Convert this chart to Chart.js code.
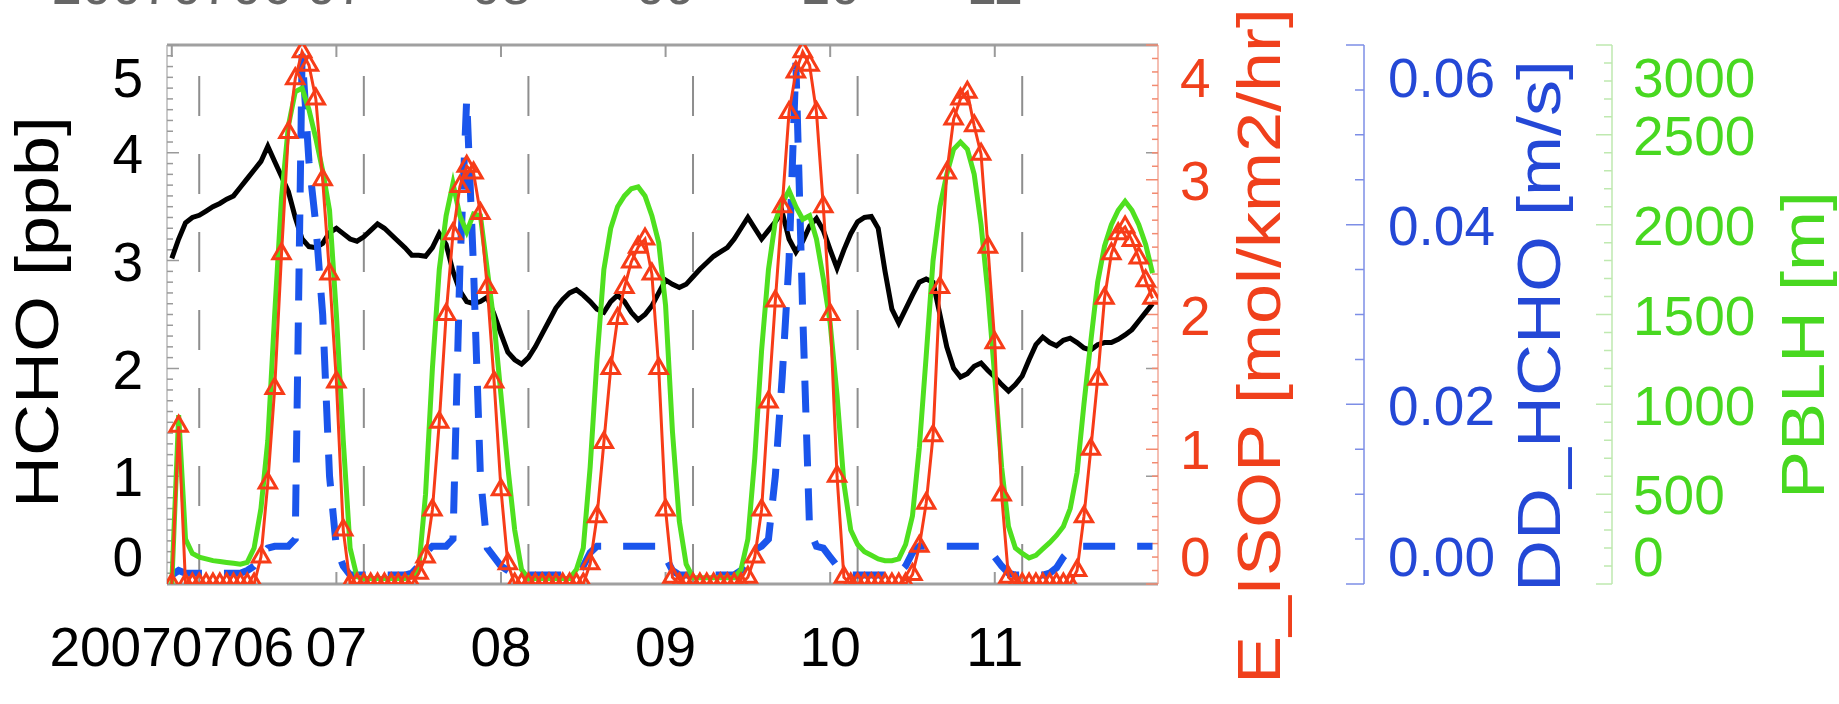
<!DOCTYPE html>
<html>
<head>
<meta charset="utf-8">
<script src="https://cdn.jsdelivr.net/npm/chart.js@4.4.0/dist/chart.umd.min.js"></script>
<style>
  html, body { margin: 0; padding: 0; background: #fff; }
  #wrap { width: 1839px; height: 704px; position: relative; }
</style>
</head>
<body>
<div id="wrap"><canvas id="myChart"></canvas></div>
<script>
// hourly model output, hours since 2007-07-06 00 UTC
const hours = [
  0, 1, 2, 3, 4, 5, 6, 7, 8, 9, 10, 11, 12, 13, 14, 15, 16, 17, 18, 19, 20, 21, 22, 23,
  24, 25, 26, 27, 28, 29, 30, 31, 32, 33, 34, 35, 36, 37, 38, 39, 40, 41, 42, 43, 44, 45, 46, 47,
  48, 49, 50, 51, 52, 53, 54, 55, 56, 57, 58, 59, 60, 61, 62, 63, 64, 65, 66, 67, 68, 69, 70, 71,
  72, 73, 74, 75, 76, 77, 78, 79, 80, 81, 82, 83, 84, 85, 86, 87, 88, 89, 90, 91, 92, 93, 94, 95,
  96, 97, 98, 99, 100, 101, 102, 103, 104, 105, 106, 107, 108, 109, 110, 111, 112, 113, 114, 115, 116, 117, 118, 119,
  120, 121, 122, 123, 124, 125, 126, 127, 128, 129, 130, 131, 132, 133, 134, 135, 136, 137, 138, 139, 140, 141, 142, 143
];

// HCHO [ppb]
const hchoPpb = [
  3.02, 3.20, 3.35, 3.40, 3.42, 3.46, 3.50, 3.53, 3.57, 3.60, 3.68, 3.76, 3.84, 3.92, 4.06, 3.92, 3.78, 3.64, 3.40, 3.20, 3.13, 3.12, 3.16, 3.26,
  3.30, 3.25, 3.20, 3.18, 3.22, 3.28, 3.34, 3.30, 3.24, 3.18, 3.12, 3.05, 3.05, 3.04, 3.12, 3.25, 3.15, 2.90, 2.72, 2.62, 2.60, 2.62, 2.66, 2.50,
  2.32, 2.15, 2.08, 2.04, 2.10, 2.20, 2.32, 2.44, 2.56, 2.64, 2.70, 2.73, 2.68, 2.62, 2.55, 2.52, 2.62, 2.68, 2.62, 2.52, 2.45, 2.50, 2.58, 2.70,
  2.82, 2.78, 2.75, 2.78, 2.85, 2.92, 2.98, 3.04, 3.08, 3.12, 3.20, 3.30, 3.40, 3.30, 3.20, 3.28, 3.36, 3.45, 3.20, 3.08, 3.18, 3.32, 3.39, 3.28,
  3.10, 2.93, 3.10, 3.25, 3.36, 3.40, 3.41, 3.30, 2.90, 2.55, 2.42, 2.55, 2.68, 2.80, 2.83, 2.80, 2.50, 2.20, 2.00, 1.92, 1.95, 2.02, 2.05, 1.98,
  1.92, 1.85, 1.79, 1.85, 1.93, 2.08, 2.22, 2.29, 2.24, 2.21, 2.26, 2.28, 2.24, 2.19, 2.17, 2.22, 2.24, 2.24, 2.27, 2.31, 2.36, 2.44, 2.52, 2.60
];

// E_ISOP [mol/km2/hr]
const eIsop = [
  0, 1.17, 0, 0, 0, 0, 0, 0, 0, 0, 0, 0, 0, 0.2, 0.75, 1.45, 2.45, 3.35, 3.75, 3.95, 3.85, 3.6, 3.0, 2.3,
  1.5, 0.4, 0, 0, 0, 0, 0, 0, 0, 0, 0, 0, 0.08, 0.2, 0.55, 1.2, 2.0, 2.6, 2.95, 3.1, 3.05, 2.75, 2.2, 1.5,
  0.7, 0.15, 0, 0, 0, 0, 0, 0, 0, 0, 0, 0, 0, 0.15, 0.5, 1.05, 1.6, 1.97, 2.2, 2.39, 2.5, 2.56, 2.3, 1.6,
  0.55, 0.05, 0, 0, 0, 0, 0, 0, 0, 0, 0, 0, 0.05, 0.2, 0.55, 1.35, 2.1, 2.8, 3.5, 3.8, 3.95, 3.85, 3.5, 2.8,
  2.0, 0.8, 0.05, 0, 0, 0, 0, 0, 0, 0, 0, 0, 0.07, 0.28, 0.6, 1.1, 2.2, 3.05, 3.45, 3.6, 3.65, 3.4, 3.19, 2.5,
  1.79, 0.66, 0.05, 0, 0, 0, 0, 0, 0, 0, 0, 0, 0.1, 0.5, 1.0, 1.52, 2.12, 2.45, 2.6, 2.65, 2.55, 2.42, 2.25, 2.12
];

// DD_HCHO [m/s]
const ddHcho = [
  0.001, 0.0015, 0.0012, 0.0012, 0.0012, 0.0012, 0.0012, 0.0012, 0.0012, 0.0012, 0.0012, 0.0015, 0.002, 0.003, 0.004, 0.0042, 0.0042, 0.0042, 0.005, 0.059, 0.047, 0.040, 0.030, 0.012,
  0.004, 0.002, 0.001, 0.001, 0.001, 0.001, 0.001, 0.001, 0.001, 0.001, 0.001, 0.0012, 0.002, 0.0035, 0.0042, 0.0042, 0.0042, 0.005, 0.035, 0.054, 0.035, 0.012, 0.004, 0.003,
  0.002, 0.0015, 0.001, 0.001, 0.001, 0.001, 0.001, 0.001, 0.001, 0.001, 0.001, 0.0012, 0.002, 0.0035, 0.0042, 0.0042, 0.0042, 0.0042, 0.0042, 0.0042, 0.0042, 0.0042, 0.0042, 0.0042,
  0.003, 0.0015, 0.001, 0.001, 0.001, 0.001, 0.001, 0.001, 0.001, 0.001, 0.001, 0.0015, 0.0025, 0.0038, 0.0042, 0.005, 0.012, 0.023, 0.036, 0.058, 0.030, 0.006, 0.0042, 0.004,
  0.003, 0.002, 0.0012, 0.001, 0.001, 0.001, 0.001, 0.001, 0.001, 0.001, 0.0012, 0.002, 0.0035, 0.0042, 0.0042, 0.0042, 0.0042, 0.0042, 0.0042, 0.0042, 0.0042, 0.0042, 0.0042, 0.0042,
  0.003, 0.002, 0.0012, 0.001, 0.001, 0.001, 0.001, 0.001, 0.0012, 0.0018, 0.003, 0.0038, 0.0042, 0.0042, 0.0042, 0.0042, 0.0042, 0.0042, 0.0042, 0.0042, 0.0042, 0.0042, 0.0042, 0.0042
];

// PBLH [m]
const pblh = [
  0, 940, 250, 170, 150, 140, 130, 125, 120, 115, 110, 120, 200, 420, 800, 1500, 2150, 2550, 2740, 2760, 2640, 2480, 2300, 2080,
  1500, 800, 200, 40, 30, 30, 30, 30, 30, 30, 30, 40, 80, 500, 1200, 1750, 2050, 2230, 2050, 1960, 2060, 2050, 1750, 1450,
  1050, 650, 300, 80, 30, 30, 30, 30, 30, 30, 30, 80, 200, 650, 1250, 1750, 1980, 2100, 2160, 2200, 2210, 2160, 2050, 1900,
  1550, 850, 350, 110, 35, 35, 35, 35, 35, 35, 35, 80, 250, 700, 1300, 1750, 2020, 2120, 2190, 2100, 2030, 2050, 1920, 1700,
  1450, 1050, 560, 300, 220, 180, 160, 140, 130, 130, 140, 220, 380, 760, 1270, 1800, 2100, 2280, 2420, 2460, 2420, 2280, 2000, 1620,
  1150, 650, 320, 200, 170, 145, 160, 195, 230, 270, 320, 420, 620, 1000, 1350, 1680, 1880, 2000, 2080, 2130, 2080, 2000, 1890, 1730
];

// axis ticks
const dayTicks = [0, 24, 48, 72, 96, 120];
const dayLabels = ['20070706', '07', '08', '09', '10', '11'];
const midnightHours = [4, 28, 52, 76, 100, 124];
const hchoTicks = [0, 1, 2, 3, 4, 5];
const isopTicks = [0, 1, 2, 3, 4];
const ddTicks = [0, 0.02, 0.04, 0.06];
const pblhTicks = [0, 500, 1000, 1500, 2000, 2500, 3000];

const fontFamily = '"Liberation Sans", Arial, Helvetica, sans-serif';
const colBlack = '#000000';
const colRed = '#f73c18';
const colBlue = '#1a55ec';
const colGreen = '#4fe01f';
const colRedText = '#f0401c';
const colBlueText = '#2448d6';
const colGreenText = '#48d820';

// end labels are pulled in towards the plot, like the old IDL layout
function edgeLabel(text, value, ticks) {
  if (value === ticks[ticks.length - 1]) return ['', text];
  if (value === ticks[0]) return [text, ''];
  return text;
}
function tickFont(ticks) {
  return function(ctx) {
    const v = ctx.tick ? ctx.tick.value : null;
    return { family: fontFamily, size: 55, lineHeight: v === ticks[ticks.length - 1] ? 64 / 55 : 56 / 55 };
  };
}
function fixedTicks(list) {
  return function(scale) { scale.ticks = list.map(v => ({ value: v })); };
}
function fixedWidth(w) {
  return function(scale) { scale.width = w; scale.paddingTop = 0; scale.paddingBottom = 0; };
}

function verticalTitle(ctx, text, x, y, color) {
  ctx.save();
  ctx.translate(x, y);
  ctx.rotate(-Math.PI / 2);
  ctx.scale(1.18, 1);
  ctx.font = '61px ' + fontFamily;
  ctx.fillStyle = color;
  ctx.textAlign = 'center';
  ctx.textBaseline = 'middle';
  ctx.fillText(text, 0, 0);
  ctx.restore();
}

const boxDecor = {
  id: 'boxDecor',
  beforeDatasetsDraw(chart) {
    const { ctx, chartArea: a, scales } = chart;
    const x = scales.x, yH = scales.yH, yI = scales.yI;
    ctx.save();

    // local midnight markers
    ctx.strokeStyle = '#8e8e8e';
    ctx.lineWidth = 2;
    ctx.setLineDash([40, 38]);
    midnightHours.forEach(function(h) {
      const px = x.getPixelForValue(h);
      ctx.beginPath();
      ctx.moveTo(px, a.top + 31);
      ctx.lineTo(px, a.bottom);
      ctx.stroke();
    });
    ctx.setLineDash([]);

    // plot box
    ctx.strokeStyle = '#a0a0a0';
    ctx.lineWidth = 3;
    ctx.beginPath();
    ctx.moveTo(a.left, a.top); ctx.lineTo(a.right, a.top);
    ctx.moveTo(a.left, a.bottom); ctx.lineTo(a.right, a.bottom);
    ctx.stroke();
    ctx.lineWidth = 1.5;
    ctx.strokeStyle = '#b8b8b8';
    ctx.beginPath();
    ctx.moveTo(a.left, a.top); ctx.lineTo(a.left, a.bottom);
    ctx.stroke();
    ctx.strokeStyle = '#f2a898';
    ctx.beginPath();
    ctx.moveTo(a.right, a.top); ctx.lineTo(a.right, a.bottom);
    ctx.stroke();

    // HCHO ticks on the left, majors mirrored on the right
    ctx.strokeStyle = '#9a9a9a';
    ctx.lineWidth = 1.5;
    for (let i = 0; i <= 50; i++) {
      const py = yH.getPixelForValue(i / 10);
      const len = i % 10 === 0 ? 12 : 6;
      ctx.beginPath();
      ctx.moveTo(a.left, py); ctx.lineTo(a.left + len, py);
      if (i % 10 === 0) { ctx.moveTo(a.right, py); ctx.lineTo(a.right - 12, py); }
      ctx.stroke();
    }
    // E_ISOP ticks on the right
    ctx.strokeStyle = '#f28a70';
    for (let i = 0; i <= 40; i++) {
      const py = yI.getPixelForValue(i / 10);
      const len = i % 10 === 0 ? 12 : 6;
      ctx.beginPath();
      ctx.moveTo(a.right, py); ctx.lineTo(a.right - len, py);
      ctx.stroke();
    }
    // day ticks on top and bottom
    ctx.strokeStyle = '#9a9a9a';
    ctx.lineWidth = 2;
    dayTicks.forEach(function(d) {
      const px = x.getPixelForValue(d);
      ctx.beginPath();
      ctx.moveTo(px, a.top); ctx.lineTo(px, a.top + 12);
      ctx.moveTo(px, a.bottom); ctx.lineTo(px, a.bottom - 12);
      ctx.stroke();
    });
    ctx.restore();
  },
  afterDraw(chart) {
    const { ctx, chartArea: a, scales } = chart;
    const x = scales.x, yD = scales.yD, yP = scales.yP;
    ctx.save();

    // DD_HCHO axis
    ctx.strokeStyle = '#7d8ee6';
    ctx.lineWidth = 1.5;
    ctx.beginPath();
    ctx.moveTo(yD.left, a.top); ctx.lineTo(yD.left, a.bottom);
    for (let i = 0; i <= 12; i++) {
      const py = yD.getPixelForValue(i * 0.005);
      const len = i % 4 === 0 ? 18 : 9;
      ctx.moveTo(yD.left, py); ctx.lineTo(yD.left - len, py);
    }
    ctx.stroke();

    // PBLH axis
    ctx.strokeStyle = '#bfe9b0';
    ctx.beginPath();
    ctx.moveTo(yP.left, a.top); ctx.lineTo(yP.left, a.bottom);
    for (let i = 0; i <= 30; i++) {
      const py = yP.getPixelForValue(i * 100);
      const len = i % 5 === 0 ? 16 : 8;
      ctx.moveTo(yP.left, py); ctx.lineTo(yP.left - len, py);
    }
    ctx.stroke();

    // axis titles
    verticalTitle(ctx, 'HCHO [ppb]', scales.yH.left + 41, 312, colBlack);
    verticalTitle(ctx, 'E_ISOP [mol/km2/hr]', scales.yI.left + 105, 346, colRedText);
    verticalTitle(ctx, 'DD_HCHO [m/s]', yD.left + 179, 326, colBlueText);
    verticalTitle(ctx, 'PBLH [m]', yP.left + 195, 345, colGreenText);

    // date labels of the panel above, cut by the page edge
    ctx.font = '54px ' + fontFamily;
    ctx.fillStyle = '#666666';
    ctx.textAlign = 'center';
    ctx.textBaseline = 'alphabetic';
    dayTicks.forEach(function(d, i) {
      ctx.fillText(dayLabels[i], x.getPixelForValue(d), 4);
    });
    ctx.restore();
  }
};

const ctx = document.getElementById('myChart').getContext('2d');
const myChart = new Chart(ctx, {
  type: 'line',
  data: {
    labels: hours,
    datasets: [
      {
        label: 'E_ISOP',
        data: eIsop,
        yAxisID: 'yI',
        borderColor: colRed,
        borderWidth: 3,
        pointStyle: 'triangle',
        pointRadius: 10,
        pointBorderWidth: 3,
        pointBorderColor: colRed,
        pointBackgroundColor: 'rgba(255,255,255,0)',
        clip: 0
      },
      {
        label: 'PBLH',
        data: pblh,
        yAxisID: 'yP',
        borderColor: colGreen,
        borderWidth: 5,
        pointRadius: 0,
        clip: 0
      },
      {
        label: 'DD_HCHO',
        data: ddHcho,
        yAxisID: 'yD',
        borderColor: colBlue,
        borderWidth: 7,
        borderDash: [32, 22],
        pointRadius: 0,
        clip: 0
      },
      {
        label: 'HCHO',
        data: hchoPpb,
        yAxisID: 'yH',
        borderColor: colBlack,
        borderWidth: 5,
        pointRadius: 0,
        clip: 0
      }
    ]
  },
  options: {
    responsive: true,
    maintainAspectRatio: false,
    animation: false,
    devicePixelRatio: 1,
    layout: { padding: { top: 45, left: 0, right: 0, bottom: 0 } },
    plugins: { legend: { display: false }, tooltip: { enabled: false } },
    scales: {
      x: {
        type: 'linear',
        min: -0.7,
        max: 143.8,
        grid: { display: false, drawTicks: false },
        border: { display: false },
        afterBuildTicks: fixedTicks(dayTicks),
        afterFit: function(scale) { scale.height = 120; scale.paddingLeft = 0; scale.paddingRight = 0; },
        ticks: {
          autoSkip: false,
          maxRotation: 0,
          minRotation: 0,
          padding: 34,
          color: colBlack,
          font: { family: fontFamily, size: 55 },
          callback: function(v) { return dayLabels[dayTicks.indexOf(v)]; }
        }
      },
      yH: {
        position: 'left',
        min: 0, max: 5,
        grid: { display: false, drawTicks: false },
        border: { display: false },
        afterBuildTicks: fixedTicks(hchoTicks),
        afterFit: fixedWidth(167),
        ticks: {
          autoSkip: false,
          padding: 24,
          labelOffset: 5,
          color: colBlack,
          font: tickFont(hchoTicks),
          callback: function(v) { return edgeLabel(String(v), v, hchoTicks); }
        }
      },
      yI: {
        position: 'right',
        min: 0, max: 4,
        grid: { display: false, drawTicks: false },
        border: { display: false },
        afterBuildTicks: fixedTicks(isopTicks),
        afterFit: fixedWidth(206),
        ticks: {
          autoSkip: false,
          padding: 22,
          labelOffset: 5,
          color: colRedText,
          font: tickFont(isopTicks),
          callback: function(v) { return edgeLabel(String(v), v, isopTicks); }
        }
      },
      yD: {
        position: 'right',
        min: 0, max: 0.06,
        grid: { display: false, drawTicks: false },
        border: { display: false },
        afterBuildTicks: fixedTicks(ddTicks),
        afterFit: fixedWidth(248),
        ticks: {
          autoSkip: false,
          padding: 24,
          labelOffset: 5,
          color: colBlueText,
          font: tickFont(ddTicks),
          callback: function(v) { return edgeLabel(v.toFixed(2), v, ddTicks); }
        }
      },
      yP: {
        position: 'right',
        min: 0, max: 3000,
        grid: { display: false, drawTicks: false },
        border: { display: false },
        afterBuildTicks: fixedTicks(pblhTicks),
        afterFit: fixedWidth(227),
        ticks: {
          autoSkip: false,
          padding: 21,
          labelOffset: 5,
          color: colGreenText,
          font: tickFont(pblhTicks),
          callback: function(v) { return edgeLabel(String(v), v, pblhTicks); }
        }
      }
    }
  },
  plugins: [boxDecor]
});
</script>
</body>
</html>
